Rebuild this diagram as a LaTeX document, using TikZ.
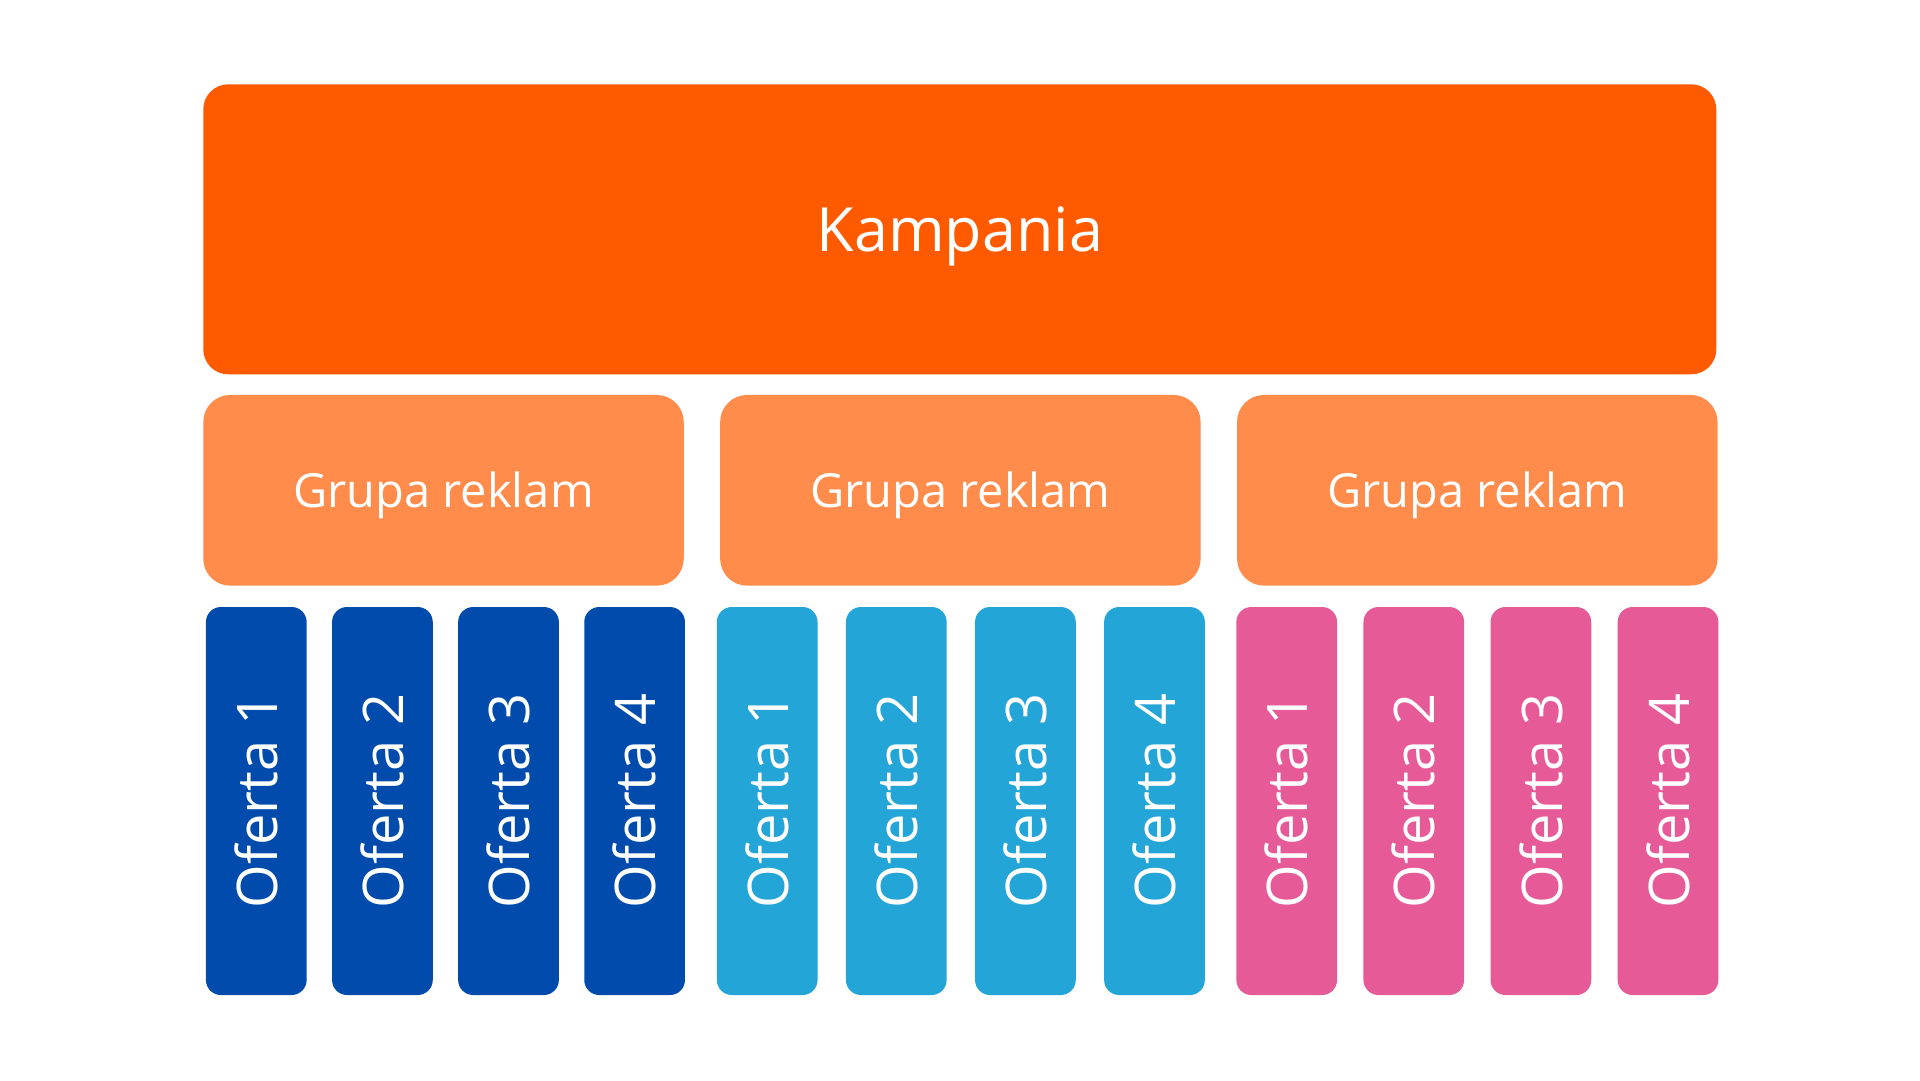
\documentclass[tikz,border=0pt]{standalone}
\usepackage{fontspec}
\setmainfont{Open Sans}
\usetikzlibrary{positioning}
\definecolor{kampania}{HTML}{FF5A00}
\definecolor{grupa}{HTML}{FF8C4B}
\definecolor{ciemny}{HTML}{014BAD}
\definecolor{jasny}{HTML}{23A5D8}
\definecolor{rozowy}{HTML}{E65A98}

\begin{document}
\begin{tikzpicture}[x=1pt,y=-1pt]
\tikzstyle{every node}=[rectangle, inner sep=0pt, text=white]
\tikzstyle{kamp}=[fill=kampania, rounded corners=25pt, minimum width=1513pt, minimum height=290pt, text height=43.6pt, text depth=0pt, font=\fontsize{61}{70}\selectfont]
\tikzstyle{grupabox}=[fill=grupa, rounded corners=27pt, minimum width=480.5pt, minimum height=190.7pt, text height=33.6pt, text depth=0pt, font=\fontsize{47}{55}\selectfont]
\tikzstyle{oferta}=[rounded corners=15pt, minimum width=100.7pt, minimum height=388pt, font=\fontsize{56}{64}\selectfont]

\path[use as bounding box, fill=white] (0,0) rectangle (1920,1080);

\node[kamp]          (K)  at (959.8,229.3) {Kampania};
\node[grupabox]      (G1) at (443.5,490.3) {Grupa reklam};
\node[grupabox]      (G2) [right=36pt of G1] {Grupa reklam};
\node[grupabox]      (G3) [right=36pt of G2] {Grupa reklam};

% oferty pod kazda grupa
\foreach \g/\kolor/\x/\odstep in {1/ciemny/256.3/25, 2/jasny/767.2/28, 3/rozowy/1286.7/26}{
  \node[oferta, fill=\kolor] (O\g1) at (\x,801) {\rotatebox{90}{Oferta 1}};
  \foreach \i [remember=\i as \p (initially 1)] in {2,3,4}
    \node[oferta, fill=\kolor, right=\odstep pt of O\g\p] (O\g\i) {\rotatebox{90}{Oferta \i}};
}
\end{tikzpicture}
\end{document}
